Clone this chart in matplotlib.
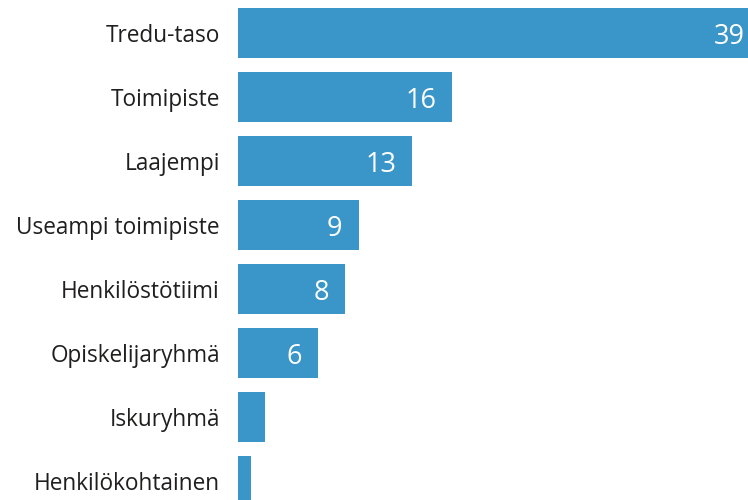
import matplotlib
matplotlib.use("Agg")
import matplotlib.pyplot as plt

# %% --- DATA ---
categories = ["Tredu-taso", "Toimipiste", "Laajempi", "Useampi toimipiste",
              "Henkilöstötiimi", "Opiskelijaryhmä", "Iskuryhmä", "Henkilökohtainen"]
values = [39, 16, 13, 9, 8, 6, 2, 1]
show_label = [True, True, True, True, True, True, False, False]

bar_color = "#3a96c9"

# %% --- FIGURE ---
W, H = 748, 500
fig = plt.figure(figsize=(W / 100, H / 100), dpi=100)
fig.patch.set_facecolor("white")

# axis starts at x=238 px, ~13.4 px per unit (top bar runs past the edge)
px_per_unit = 13.4
x0 = 238
ax_w = 40 * px_per_unit
# bar pitch 64 px, first center at y=33 px
top = 1
ax_h = 8 * 64
ax = fig.add_axes([x0 / W, (H - top - ax_h) / H, ax_w / W, ax_h / H])

pos = list(range(len(categories)))
ax.barh(pos, values, height=0.78, color=bar_color)
ax.set_xlim(0, 40)
ax.set_ylim(7.5, -0.5)

ax.set_yticks(pos)
ax.set_yticklabels(categories, fontsize=16.3, family="Open Sans", color="#201f1e")
ax.tick_params(axis="y", length=0, pad=13)
ax.set_xticks([])
for s in ax.spines.values():
    s.set_visible(False)

for p, v, show in zip(pos, values, show_label):
    if show:
        ax.text(v - 1.2, p + 0.06, str(v), ha="right", va="center", color="white",
                fontsize=19.5, family="Open Sans")

fig.savefig("out.png", dpi=100)
